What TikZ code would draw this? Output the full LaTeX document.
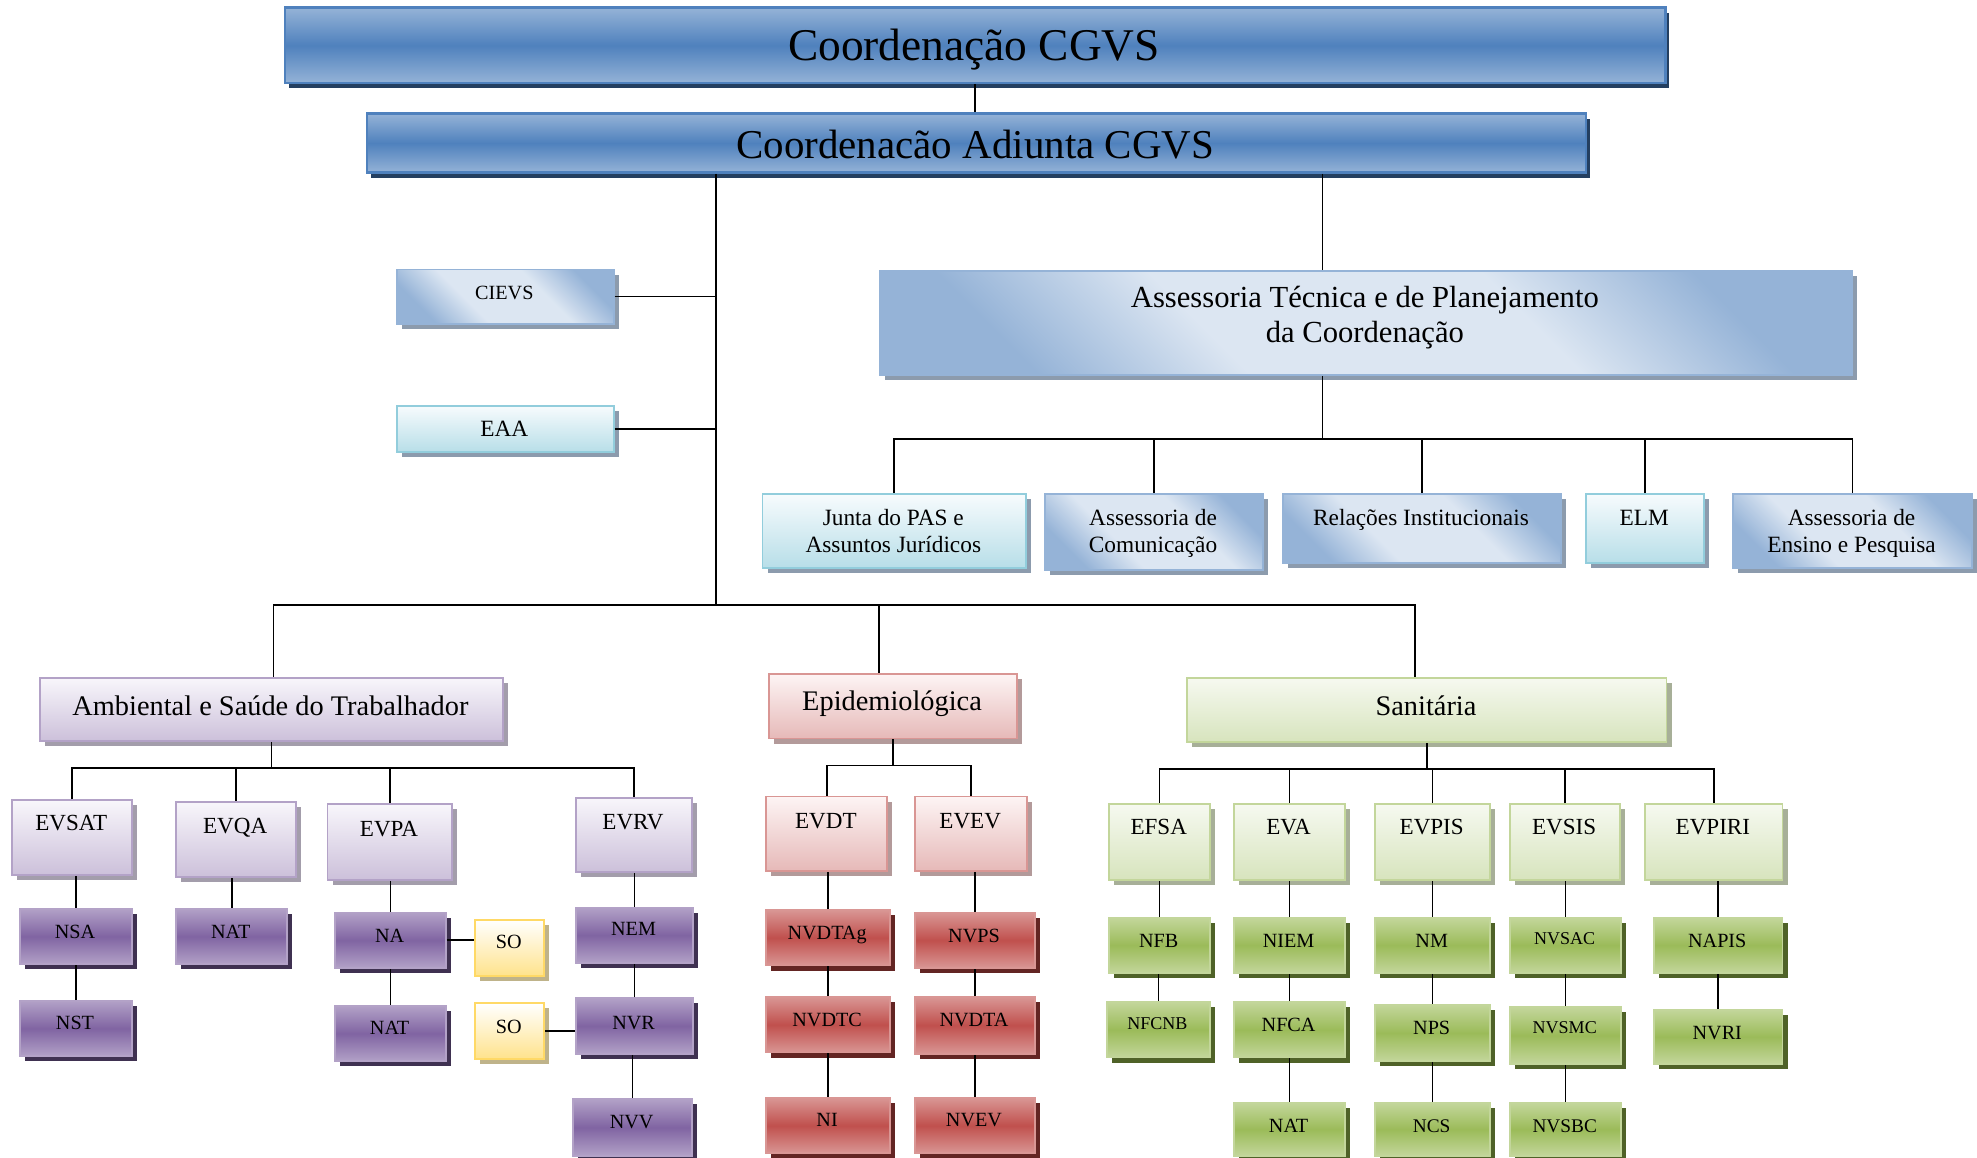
\documentclass[tikz,border=0pt]{standalone}
\usepackage{fontspec}
\setmainfont{Liberation Serif}
\usetikzlibrary{shadows}
\definecolor{bluemid}{HTML}{4F81BD}
\definecolor{blueedge}{HTML}{95B3D7}
\definecolor{bluedark}{HTML}{243F60}
\definecolor{bluelight}{HTML}{DCE6F2}
\definecolor{blueshadow}{HTML}{8C9BAD}
\definecolor{cyanhi}{HTML}{F7FBFD}
\definecolor{cyanlow}{HTML}{B7DEE8}
\definecolor{cyanborder}{HTML}{92CDDC}
\definecolor{purhi}{HTML}{F8F6FB}
\definecolor{purlow}{HTML}{CCC0DA}
\definecolor{purborder}{HTML}{B3A2C7}
\definecolor{purmid}{HTML}{8064A2}
\definecolor{puredge}{HTML}{B2A1C7}
\definecolor{purdark}{HTML}{3F3151}
\definecolor{purshadow}{HTML}{A39DAB}
\definecolor{pinkhi}{HTML}{FDF4F4}
\definecolor{pinklow}{HTML}{E6B9B8}
\definecolor{pinkborder}{HTML}{D99694}
\definecolor{redmid}{HTML}{C0504D}
\definecolor{rededge}{HTML}{D99694}
\definecolor{reddark}{HTML}{632523}
\definecolor{pinkshadow}{HTML}{B39A9A}
\definecolor{greenhi}{HTML}{F6F9F0}
\definecolor{greenlow}{HTML}{D7E4BD}
\definecolor{greenborder}{HTML}{C3D69B}
\definecolor{greenmid}{HTML}{9BBB59}
\definecolor{greenedge}{HTML}{C3D69B}
\definecolor{greendark}{HTML}{4F6228}
\definecolor{greenshadow}{HTML}{A7AF98}
\definecolor{yellowlow}{HTML}{FFE38C}
\definecolor{yellowborder}{HTML}{FFD966}
\definecolor{yellowshadow}{HTML}{BFB38A}
\pgfdeclareverticalshading{lbshade}{100bp}{color(0bp)=(blueedge); color(25bp)=(blueedge); color(39bp)=(bluelight); color(61bp)=(bluelight); color(75bp)=(blueedge); color(100bp)=(blueedge)}
\tikzset{
  basebox/.style={rectangle, inner sep=0pt, line width=1.5pt},
  shd/.style={drop shadow={shadow xshift=4pt, shadow yshift=-4pt, fill=#1, opacity=1}},
  titlebox/.style={basebox, draw=bluemid, line width=2pt, top color=blueedge, bottom color=blueedge, middle color=bluemid, drop shadow={shadow xshift=3pt, shadow yshift=-4pt, fill=bluedark, opacity=1}},
  lbbox/.style={basebox, draw=blueedge, shade, shading=lbshade, shading angle=-45, shd=blueshadow},
  cybox/.style={basebox, draw=cyanborder, top color=cyanhi, bottom color=cyanlow, shd=blueshadow},
  pubox/.style={basebox, draw=purborder, top color=purhi, bottom color=purlow, shd=purshadow},
  pudark/.style={basebox, draw=purborder, top color=puredge, bottom color=puredge, middle color=purmid, shd=purdark},
  pkbox/.style={basebox, draw=pinkborder, top color=pinkhi, bottom color=pinklow, shd=pinkshadow},
  rdbox/.style={basebox, draw=rededge, top color=rededge, bottom color=rededge, middle color=redmid, shd=reddark},
  grbox/.style={basebox, draw=greenborder, top color=greenhi, bottom color=greenlow, shd=greenshadow},
  gndark/.style={basebox, draw=greenedge, top color=greenedge, bottom color=greenedge, middle color=greenmid, shd=greendark},
  yebox/.style={basebox, draw=yellowborder, top color=white, bottom color=yellowlow, shd=yellowshadow},
  txt/.style={inner sep=0pt, align=center, text=black},
  one/.style={txt, font=\fontsize{#1}{#1}\selectfont, text height={0.662*#1*1pt}, text depth=0pt},
  f36/.style={one=36},
  f32/.style={one=32.5},
  f22/.style={one=22.5},
  f18/.style={one=18.3},
  f16/.style={one=16},
  f15/.style={one=15.3},
  f14/.style={one=14.3},
  m24/.style={txt, font=\fontsize{24.3}{28}\selectfont},
  m18/.style={txt, font=\fontsize{18.5}{21.5}\selectfont},
  conn/.style={draw=black, line width=1.3pt},
}
\newcommand\obox[9]{%
  \node[#2, minimum width={(#5-#3)*1pt}, minimum height={(#6-#4)*1pt}, anchor=north west] (#1) at (#3,#4) {};
  \node[#9] (#1t) at ({(#3+#5)/2},#8) {#7};}
\newcommand\vlink[2]{\draw[conn] (#2.north) -- (#2.north |- #1.south);}
\begin{document}
\begin{tikzpicture}[x=1pt, y=-1pt]
\useasboundingbox (0,0) rectangle (1568,918);
% top level
\obox{top}{titlebox}{225}{5}{1320}{65}{Coordenação CGVS}{36}{f36}
\obox{adj}{titlebox}{290}{89}{1257}{136}{Coordenacão Adiunta CGVS}{115}{f32}
\obox{cievs}{lbbox}{314}{213}{486}{256}{CIEVS}{232}{f16}
\obox{eaa}{cybox}{314}{321}{486}{358}{EAA}{340}{one=18.5}
\obox{atp}{lbbox}{697}{214}{1468}{297}{Assessoria Técnica e de Planejamento\\da Coordenação}{252}{m24}
\obox{junta}{cybox}{604}{391}{813}{450}{Junta do PAS e\\Assuntos Jurídicos}{421}{m18}
\obox{comu}{lbbox}{828}{391}{1001}{451}{Assessoria de\\Comunicação}{423}{m18}
\obox{rel}{lbbox}{1017}{391}{1237}{446}{Relações Institucionais}{411}{one=18.5}
\obox{elm}{cybox}{1257}{391}{1351}{446}{ELM}{411}{one=18.5}
\obox{ens}{lbbox}{1374}{391}{1563}{450}{Assessoria de\\Ensino e Pesquisa}{423}{m18}
% divisions
\obox{amb}{pubox}{31}{537}{398}{587}{Ambiental e Saúde do Trabalhador}{560}{f22}
\obox{epi}{pkbox}{609}{534}{806}{585}{Epidemiológica}{556}{f22}
\obox{san}{grbox}{941}{537}{1321}{588}{Sanitária}{560}{f22}
% ambiental
\obox{evsat}{pubox}{9}{634}{104}{693}{EVSAT}{653}{f18}
\obox{evqa}{pubox}{139}{635}{234}{695}{EVQA}{655}{f18}
\obox{evpa}{pubox}{259}{637}{358}{697}{EVPA}{657}{f18}
\obox{evrv}{pubox}{456}{632}{548}{691}{EVRV}{652}{f18}
\obox{nsa}{pudark}{15}{720}{104}{764}{NSA}{739}{f16}
\obox{nst}{pudark}{15}{793}{104}{837}{NST}{811}{f16}
\obox{natq}{pudark}{139}{720}{227}{764}{NAT}{739}{f16}
\obox{na}{pudark}{265}{723}{353}{767}{NA}{742}{f16}
\obox{natp}{pudark}{265}{797}{353}{841}{NAT}{815}{f16}
\obox{soa}{yebox}{376}{729}{431}{773}{SO}{747}{f16}
\obox{sob}{yebox}{376}{795}{431}{839}{SO}{814}{f16}
\obox{nem}{pudark}{456}{719}{549}{763}{NEM}{737}{f16}
\obox{nvr}{pudark}{456}{791}{549}{835}{NVR}{811}{f16}
\obox{nvv}{pudark}{454}{871}{548}{916}{NVV}{890}{f16}
% epidemiologica
\obox{evdt}{pkbox}{607}{631}{703}{690}{EVDT}{651}{f18}
\obox{evev}{pkbox}{725}{631}{814}{690}{EVEV}{651}{f18}
\obox{nvdtag}{rdbox}{607}{721}{705}{765}{NVDTAg}{740}{f16}
\obox{nvdtc}{rdbox}{607}{790}{705}{834}{NVDTC}{809}{f16}
\obox{ni}{rdbox}{607}{870}{705}{914}{NI}{888}{f16}
\obox{nvps}{rdbox}{725}{723}{820}{767}{NVPS}{742}{f16}
\obox{nvdta}{rdbox}{725}{790}{820}{835}{NVDTA}{809}{f16}
\obox{nvev}{rdbox}{725}{870}{820}{914}{NVEV}{888}{f16}
% sanitaria
\obox{efsa}{grbox}{879}{637}{959}{697}{EFSA}{656}{f18}
\obox{eva}{grbox}{978}{637}{1066}{697}{EVA}{656}{f18}
\obox{evpis}{grbox}{1090}{637}{1181}{697}{EVPIS}{656}{f18}
\obox{evsis}{grbox}{1197}{637}{1284}{697}{EVSIS}{656}{f18}
\obox{evpiri}{grbox}{1304}{637}{1413}{697}{EVPIRI}{656}{f18}
\obox{nfb}{gndark}{879}{727}{959}{771}{NFB}{746}{f16}
\obox{nfcnb}{gndark}{877}{794}{959}{838}{NFCNB}{812}{f14}
\obox{niem}{gndark}{978}{727}{1066}{771}{NIEM}{746}{f16}
\obox{nfca}{gndark}{978}{794}{1066}{838}{NFCA}{813}{f16}
\obox{nats}{gndark}{978}{874}{1066}{916}{NAT}{893}{f16}
\obox{nm}{gndark}{1090}{727}{1181}{771}{NM}{746}{f16}
\obox{nps}{gndark}{1090}{796}{1181}{841}{NPS}{815}{f16}
\obox{ncs}{gndark}{1090}{874}{1181}{916}{NCS}{893}{f15}
\obox{nvsac}{gndark}{1197}{727}{1285}{771}{NVSAC}{744}{f14}
\obox{nvsmc}{gndark}{1197}{798}{1285}{843}{NVSMC}{815}{f14}
\obox{nvsbc}{gndark}{1197}{874}{1285}{916}{NVSBC}{893}{f15}
\obox{napis}{gndark}{1311}{727}{1413}{771}{NAPIS}{746}{f16}
\obox{nvri}{gndark}{1311}{800}{1413}{843}{NVRI}{819}{f16}
% junction coordinates
\coordinate (jA) at (568,480);
\coordinate (jL) at (217,480);
\coordinate (jE) at (697,480);
\coordinate (jS) at (1122,480);
\coordinate (jT) at (1049,348);
\coordinate (aB) at (214,609);
\coordinate (eB) at (707,607);
\coordinate (sB) at (1130,610);
% connectors
\draw[conn] (top.south) -- (top.south |- adj.north);
\draw[conn] (adj.south -| jA) -- (jA);
\draw[conn] (cievs.east) -- (cievs.east -| jA);
\draw[conn] (eaa.east) -- (eaa.east -| jA);
\draw[conn] (jL |- amb.north) -- (jL) -- (jS) -- (jS |- san.north);
\draw[conn] (jE) -- (jE |- epi.north);
\draw[conn] (adj.south -| jT) -- (atp.north -| jT);
\draw[conn] (atp.south -| jT) -- (jT);
\draw[conn] (junta.north) |- (jT) -| (ens.north);
\draw[conn] (comu.north) -- (comu.north |- jT);
\draw[conn] (rel.north) -- (rel.north |- jT);
\draw[conn] (elm.north) -- (elm.north |- jT);
% ambiental
\draw[conn] (amb.south) -- (amb.south |- aB);
\draw[conn] (evsat.north) |- (aB) -| (evrv.north);
\draw[conn] (evqa.north) -- (evqa.north |- aB);
\draw[conn] (evpa.north) -- (evpa.north |- aB);
\vlink{evsat}{nsa}
\vlink{nsa}{nst}
\vlink{evqa}{natq}
\vlink{evpa}{na}
\vlink{na}{natp}
\vlink{evrv}{nem}
\vlink{nem}{nvr}
\vlink{nvr}{nvv}
\draw[conn] (na.east) -- (na.east -| soa.west);
\draw[conn] (sob.east) -- (sob.east -| nvr.west);
% epidemiologica
\draw[conn] (epi.south) -- (epi.south |- eB);
\draw[conn] (evdt.north) |- (eB) -| (evev.north);
\vlink{evdt}{nvdtag}
\vlink{nvdtag}{nvdtc}
\vlink{nvdtc}{ni}
\vlink{evev}{nvps}
\vlink{nvps}{nvdta}
\vlink{nvdta}{nvev}
% sanitaria
\draw[conn] (san.south) -- (san.south |- sB);
\draw[conn] (efsa.north) |- (sB) -| (evpiri.north);
\draw[conn] (eva.north) -- (eva.north |- sB);
\draw[conn] (evpis.north) -- (evpis.north |- sB);
\draw[conn] (evsis.north) -- (evsis.north |- sB);
\vlink{efsa}{nfb}
\vlink{nfb}{nfcnb}
\vlink{eva}{niem}
\vlink{niem}{nfca}
\vlink{nfca}{nats}
\vlink{evpis}{nm}
\vlink{nm}{nps}
\vlink{nps}{ncs}
\vlink{evsis}{nvsac}
\vlink{nvsac}{nvsmc}
\vlink{nvsmc}{nvsbc}
\vlink{evpiri}{napis}
\vlink{napis}{nvri}
\end{tikzpicture}
\end{document}
